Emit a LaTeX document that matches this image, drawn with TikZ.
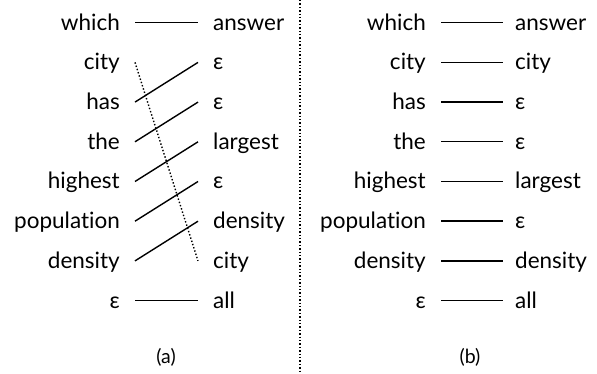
\documentclass[tikz,border=0pt]{standalone}
\usepackage{fontspec}
\setmainfont{Lato}[Ligatures=NoCommon]
\begin{document}
\begin{tikzpicture}[x=1pt,y=-1pt,
  lw/.style={anchor=base east,inner sep=0pt,font=\fontsize{22.5}{24}\selectfont},
  rw/.style={anchor=base west,inner sep=0pt,font=\fontsize{22.5}{24}\selectfont},
  captext/.style={inner sep=0pt,font=\fontsize{19.5}{21}\selectfont},
  link/.style={line width=1.4pt},
  dlink/.style={line width=1.4pt,dotted}]
\useasboundingbox (0,0) rectangle (597,374);
% panel (a)
\foreach \n/\t [count=\i from 0] in {l0/which,l1/city,l2/has,l3/the,l4/highest,l5/population,l6/density,l7/ε}{
  \node[lw] (a\n) at (120,{30.2+39.7*\i}) {\t};
  \coordinate (a\n p) at (135,{22.7+39.7*\i});
}
\foreach \n/\t [count=\i from 0] in {r0/answer,r1/ε,r2/ε,r3/largest,r4/ε,r5/density,r6/city,r7/all}{
  \node[rw] (a\n) at (213,{30.2+39.7*\i}) {\t};
  \coordinate (a\n p) at (198,{22.7+39.7*\i});
}
\draw[link] (al0p) -- (ar0p);
\draw[dlink] (al1p) -- (ar6p);
\draw[link] (al2p) -- (ar1p);
\draw[link] (al3p) -- (ar2p);
\draw[link] (al4p) -- (ar3p);
\draw[link] (al5p) -- (ar4p);
\draw[link] (al6p) -- (ar5p);
\draw[link] (al7p) -- (ar7p);
\node[captext] (capa) at (166,357) {(a)};
% divider
\coordinate (dtop) at (300,0);
\coordinate (dbot) at (300,374);
\draw[dlink] (dtop) -- (dbot);
% panel (b)
\foreach \n/\t [count=\i from 0] in {l0/which,l1/city,l2/has,l3/the,l4/highest,l5/population,l6/density,l7/ε}{
  \node[lw] (b\n) at (426,{30.2+39.7*\i}) {\t};
  \coordinate (b\n p) at (441,{22.7+39.7*\i});
}
\foreach \n/\t [count=\i from 0] in {r0/answer,r1/city,r2/ε,r3/ε,r4/largest,r5/ε,r6/density,r7/all}{
  \node[rw] (b\n) at (515,{30.2+39.7*\i}) {\t};
  \coordinate (b\n p) at (503,{22.7+39.7*\i});
}
\foreach \i in {0,...,7}{
  \draw[link] (bl\i p) -- (br\i p);
}
\node[captext] (capb) at (470,357) {(b)};
\end{tikzpicture}
\end{document}
